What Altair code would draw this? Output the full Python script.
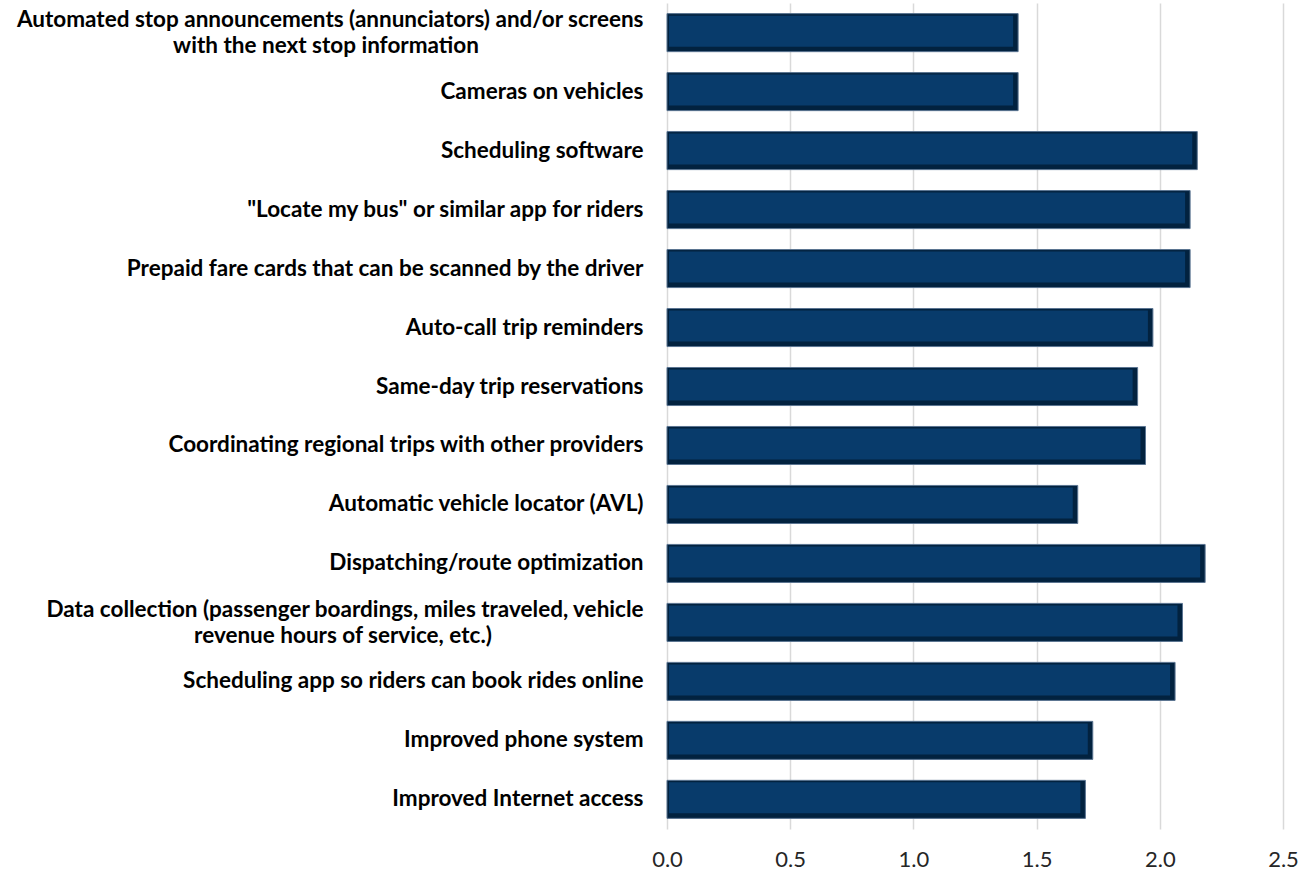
import altair as alt
import pandas as pd

categories = [
    "Automated stop announcements (annunciators) and/or screens|with the next stop information",
    "Cameras on vehicles",
    "Scheduling software",
    "\"Locate my bus\" or similar app for riders",
    "Prepaid fare cards that can be scanned by the driver",
    "Auto-call trip reminders",
    "Same-day trip reservations",
    "Coordinating regional trips with other providers",
    "Automatic vehicle locator (AVL)",
    "Dispatching/route optimization",
    "Data collection (passenger boardings, miles traveled, vehicle|revenue hours of service, etc.)",
    "Scheduling app so riders can book rides online",
    "Improved phone system",
    "Improved Internet access",
]
values = [1.425, 1.425, 2.152, 2.123, 2.123, 1.972, 1.910, 1.942, 1.667, 2.184, 2.092, 2.062, 1.728, 1.698]
x_ticks = [0.0, 0.5, 1.0, 1.5, 2.0, 2.5]

df = pd.DataFrame({"category": categories, "value": values})

FONT = "Lato"
LABEL_SIZE = 22.5

yscale = alt.Scale(paddingInner=0.355, paddingOuter=0.18)
xaxis = alt.Axis(
    values=x_ticks, format=".1f", title=None, grid=True, gridColor="#d9d9d9",
    gridWidth=1.5, domain=False, ticks=False, labelFont=FONT, labelFontSize=22,
    labelColor="#262626", labelPadding=20, labelFlush=False,
)
xenc = alt.X("value:Q", scale=alt.Scale(domain=[0, 2.5], nice=False), axis=xaxis)


def yaxis(expr, align, padding, offset=0):
    return alt.Axis(
        title=None, grid=False, domain=False, ticks=False, labelExpr=expr,
        labelAlign=align, labelPadding=padding, labelLimit=0, labelOffset=offset,
        labelFont=FONT, labelFontSize=LABEL_SIZE, labelFontWeight="bold",
        labelColor="#000000", orient="left",
    )


expr_single = "indexof(datum.value, '|') >= 0 ? '' : datum.value"
expr_first = "indexof(datum.value, '|') >= 0 ? split(datum.value, '|')[0] : ''"
expr_auto = "indexof(datum.value, 'Automated stop') == 0 ? split(datum.value, '|')[1] : ''"
expr_data = "indexof(datum.value, 'Data collection') == 0 ? split(datum.value, '|')[1] : ''"

base = alt.Chart(df)


def ysel(axis):
    return alt.Y("category:N", sort=categories, scale=yscale, axis=axis)


outer = base.mark_bar(color="#02223f", stroke="#5a7491", strokeWidth=1).encode(
    x=xenc, y=ysel(yaxis(expr_single, "right", 24)),
)
inner = base.mark_bar(color="#083b6b", xOffset=-5, x2Offset=2, yOffset=-1.5, size=31).encode(
    x=alt.X("value:Q", scale=alt.Scale(domain=[0, 2.5], nice=False), axis=xaxis),
    x2=alt.datum(0),
    y=ysel(None),
)
lab_first = base.mark_bar(opacity=0).encode(x=xenc, y=ysel(yaxis(expr_first, "right", 24, -12.5)))
lab_auto = base.mark_bar(opacity=0).encode(x=xenc, y=ysel(yaxis(expr_auto, "center", 341.5, 13.5)))
lab_data = base.mark_bar(opacity=0).encode(x=xenc, y=ysel(yaxis(expr_data, "center", 324.5, 13.5)))

chart = (
    alt.layer(outer, inner, lab_first, lab_auto, lab_data)
    .resolve_axis(y="independent")
    .resolve_scale(y="shared")
    .properties(
        width=616, height=826, autosize=alt.AutoSizeParams(type="none"),
        padding={"left": 667, "top": 3, "right": 27, "bottom": 47},
        background="white",
    )
    .configure_view(stroke=None)
)

chart.save("out.html", embed_options={"renderer": "svg", "actions": False})
